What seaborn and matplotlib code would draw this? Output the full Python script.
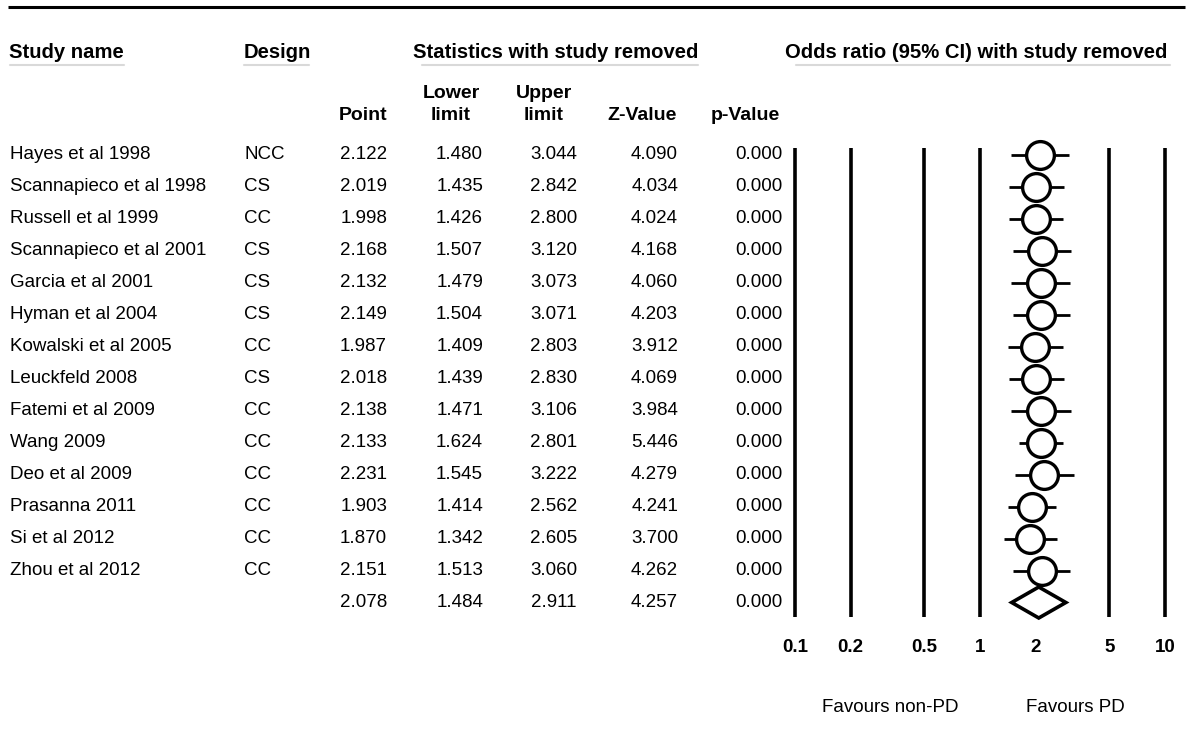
import numpy as np
import pandas as pd
import seaborn as sns
import matplotlib
matplotlib.use("Agg")
import matplotlib.pyplot as plt

# data
studies = ["Hayes et al 1998", "Scannapieco et al 1998", "Russell et al 1999",
           "Scannapieco et al 2001", "Garcia et al 2001", "Hyman et al 2004",
           "Kowalski et al 2005", "Leuckfeld 2008", "Fatemi et al 2009",
           "Wang 2009", "Deo et al 2009", "Prasanna 2011", "Si et al 2012",
           "Zhou et al 2012"]
design = ["NCC", "CS", "CC", "CS", "CS", "CS", "CC", "CS", "CC", "CC", "CC",
          "CC", "CC", "CC"]
point = [2.122, 2.019, 1.998, 2.168, 2.132, 2.149, 1.987, 2.018, 2.138, 2.133,
         2.231, 1.903, 1.870, 2.151]
lower = [1.480, 1.435, 1.426, 1.507, 1.479, 1.504, 1.409, 1.439, 1.471, 1.624,
         1.545, 1.414, 1.342, 1.513]
upper = [3.044, 2.842, 2.800, 3.120, 3.073, 3.071, 2.803, 2.830, 3.106, 2.801,
         3.222, 2.562, 2.605, 3.060]
zval = [4.090, 4.034, 4.024, 4.168, 4.060, 4.203, 3.912, 4.069, 3.984, 5.446,
        4.279, 4.241, 3.700, 4.262]
pval = [0.000] * 14

summary = {"point": 2.078, "lower": 1.484, "upper": 2.911, "z": 4.257, "p": 0.000}

ticks = [0.1, 0.2, 0.5, 1, 2, 5, 10]
tick_labels = ["0.1", "0.2", "0.5", "1", "2", "5", "10"]
grid_ticks = [0.1, 0.2, 0.5, 1, 5, 10]

sns.set_theme(style="white")
plt.rcParams['font.family'] = ['Liberation Sans', 'DejaVu Sans']
plt.rcParams['text.color'] = 'black'

W, H = 1193, 733
fig = plt.figure(figsize=(W / 100, H / 100), dpi=100)

# text layer in pixel coordinates
ax = fig.add_axes([0, 0, 1, 1])
ax.set_xlim(0, W)
ax.set_ylim(H, 0)
ax.axis("off")

fs = 13.5      # body
fh = 14.6      # group headers
fc = 14.0      # column headers
y0, dy = 154.5, 32.0
rows_y = [y0 + i * dy for i in range(len(studies))]
sum_y = y0 + len(studies) * dy

# top rule
ax.plot([8, 1185], [7, 7], color="black", lw=2.2, solid_capstyle="butt")

# group headers with grey underline
heads = [("Study name", 9, 10, 124), ("Design", 244, 244, 309),
         ("Statistics with study removed", 413, 422, 698),
         ("Odds ratio (95% CI) with study removed", 785, 796, 1170)]
for txt, x, u0, u1 in heads:
    ax.text(x, 53, txt, fontsize=fh, fontweight="bold", ha="left", va="center")
    ax.plot([u0, u1], [65, 65], color="#d9d9d9", lw=1.5)

# column headers
ax.text(387, 115, "Point", fontsize=fc, fontweight="bold", ha="right", va="center")
ax.text(451, 93, "Lower", fontsize=fc, fontweight="bold", ha="center", va="center")
ax.text(451, 115, "limit", fontsize=fc, fontweight="bold", ha="center", va="center")
ax.text(544, 93, "Upper", fontsize=fc, fontweight="bold", ha="center", va="center")
ax.text(544, 115, "limit", fontsize=fc, fontweight="bold", ha="center", va="center")
ax.text(677, 115, "Z-Value", fontsize=fc, fontweight="bold", ha="right", va="center")
ax.text(780, 115, "p-Value", fontsize=fc, fontweight="bold", ha="right", va="center")

# table body
cols_right = [387, 483, 577, 678, 782]
for i, y in enumerate(rows_y):
    ax.text(10, y, studies[i], fontsize=fs, ha="left", va="center")
    ax.text(244, y, design[i], fontsize=fs, ha="left", va="center")
    for xr, v in zip(cols_right, [point[i], lower[i], upper[i], zval[i], pval[i]]):
        ax.text(xr, y, f"{v:.3f}", fontsize=fs, ha="right", va="center")
for xr, v in zip(cols_right, [summary["point"], summary["lower"], summary["upper"],
                              summary["z"], summary["p"]]):
    ax.text(xr, sum_y, f"{v:.3f}", fontsize=fs, ha="right", va="center")

ax.text(890, 708, "Favours non-PD", fontsize=fs, ha="center", va="center")
ax.text(1075, 708, "Favours PD", fontsize=fs, ha="center", va="center")

# forest layer: log x between 0.1 and 10, pixel y
axf = fig.add_axes([795 / W, 0, (1165 - 795) / W, 1])
axf.set_xscale("log")
axf.set_xlim(0.1, 10)
axf.set_ylim(H, 0)
axf.axis("off")

axf.vlines(grid_ticks, 148, 617, color="black", lw=2.6, clip_on=False)
axf.hlines(rows_y, lower, upper, color="black", lw=2.0, clip_on=False)

df = pd.DataFrame({"point": point, "y": rows_y})
sns.scatterplot(data=df, x="point", y="y", ax=axf, marker="o", s=400,
                facecolor="white", edgecolor="black", linewidth=2.4,
                zorder=3, clip_on=False, legend=False)

dh = 15.5
axf.fill([summary["lower"], summary["point"], summary["upper"], summary["point"]],
         [sum_y, sum_y - dh, sum_y, sum_y + dh],
         facecolor="white", edgecolor="black", lw=2.6, zorder=3, clip_on=False)

for t, lab in zip(ticks, tick_labels):
    axf.text(t, 648, lab, fontsize=fs, fontweight="bold", ha="center", va="center",
             clip_on=False)

fig.savefig("out.png", dpi=100, facecolor="white")
